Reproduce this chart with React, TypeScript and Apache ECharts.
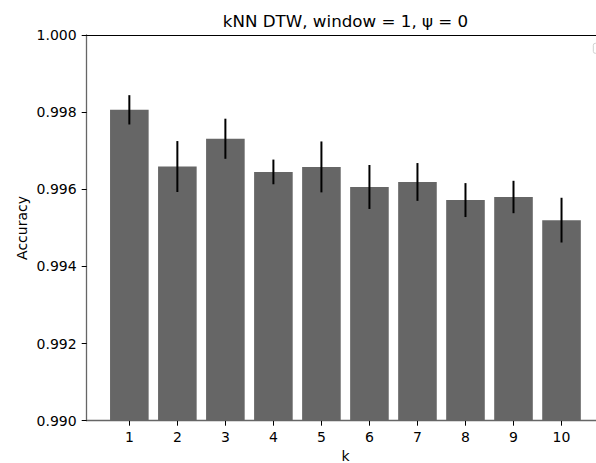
import React, { useEffect, useRef } from "react";
import * as echarts from "echarts";

const kValues = [1, 2, 3, 4, 5, 6, 7, 8, 9, 10];
const accuracy = [0.99806, 0.99659, 0.99731, 0.99645, 0.99658, 0.99606, 0.99619, 0.99572, 0.9958, 0.9952];
const errors = [0.00038, 0.00066, 0.00052, 0.00032, 0.00066, 0.00057, 0.00049, 0.00044, 0.00042, 0.00058];
const yTicks = { min: 0.99, max: 1.0, interval: 0.002 };
const titleText = "kNN DTW, window = 1, ψ = 0";
const xName = "k";
const yName = "Accuracy";

const FONT = '"DejaVu Sans", "Liberation Sans", sans-serif';

export default function App() {
  const ref = useRef<HTMLDivElement>(null);
  useEffect(() => {
    document.body.style.margin = "0";
    if (!ref.current) return;
    const chart = echarts.init(ref.current, null, { renderer: "svg" });
    const xMin = 0.112;
    const xMax = 10.718;
    chart.setOption({
      animation: false,
      backgroundColor: "#ffffff",
      textStyle: { fontFamily: FONT },
      grid: { left: 86.7, top: 35, right: 0, bottom: 42.3, containLabel: false },
      xAxis: [
        {
          type: "value",
          min: xMin,
          max: xMax,
          position: "bottom",
          splitLine: { show: false },
          axisLine: { show: true, lineStyle: { color: "#666666", width: 1.3 } },
          axisTick: { show: true, customValues: kValues, length: 5, lineStyle: { color: "#000", width: 1 } },
          axisLabel: {
            show: true,
            customValues: kValues,
            formatter: (v: number) => String(Math.round(v)),
            margin: 9,
            fontSize: 14,
            color: "#000",
            fontFamily: FONT,
          },
        },
        {
          type: "value",
          min: xMin,
          max: xMax,
          position: "top",
          splitLine: { show: false },
          axisLine: { show: true, lineStyle: { color: "#000", width: 1.2 } },
          axisTick: { show: false },
          axisLabel: { show: false },
        },
      ],
      yAxis: {
        type: "value",
        min: yTicks.min,
        max: yTicks.max,
        interval: yTicks.interval,
        splitLine: { show: false },
        axisLine: { show: true, lineStyle: { color: "#666666", width: 1.3 } },
        axisTick: { show: true, length: 5, lineStyle: { color: "#000", width: 1 } },
        axisLabel: {
          formatter: (v: number) => v.toFixed(3),
          margin: 10,
          fontSize: 14,
          color: "#000",
          fontFamily: FONT,
        },
      },
      series: [
        {
          type: "bar",
          xAxisIndex: 0,
          data: kValues.map((k, i) => [k, accuracy[i]]),
          barWidth: 38.6,
          clip: true,
          itemStyle: { color: "#666666" },
          z: 2,
        },
        {
          type: "custom",
          xAxisIndex: 0,
          data: kValues.map((k, i) => [k, accuracy[i] - errors[i], accuracy[i] + errors[i]]),
          encode: { x: 0, y: [1, 2] },
          z: 5,
          renderItem: (params: any, api: any) => {
            const x = api.value(0);
            const p1 = api.coord([x, api.value(1)]);
            const p2 = api.coord([x, api.value(2)]);
            return {
              type: "line",
              shape: { x1: p1[0], y1: p1[1], x2: p2[0], y2: p2[1] },
              style: { stroke: "#000", lineWidth: 2 },
            };
          },
        },
      ],
      graphic: [
        {
          type: "text",
          x: 345.5,
          y: 21,
          style: {
            text: titleText,
            font: `16.7px ${FONT}`,
            fill: "#000",
            textAlign: "center",
            textVerticalAlign: "middle",
            align: "center",
            verticalAlign: "middle",
          },
        },
        {
          type: "text",
          x: 345.5,
          y: 455.5,
          style: {
            text: xName,
            font: `14px ${FONT}`,
            fill: "#000",
            textAlign: "center",
            textVerticalAlign: "middle",
            align: "center",
            verticalAlign: "middle",
          },
        },
        {
          type: "text",
          x: 21.5,
          y: 228,
          rotation: Math.PI / 2,
          style: {
            text: yName,
            font: `14px ${FONT}`,
            fill: "#000",
            textAlign: "center",
            textVerticalAlign: "middle",
            align: "center",
            verticalAlign: "middle",
          },
        },
        {
          type: "rect",
          x: 593.3,
          y: 43.3,
          shape: { width: 20, height: 10, r: 2 },
          style: { fill: "#ffffff", stroke: "#d0d0d0", lineWidth: 1 },
        },
      ],
    });
    return () => chart.dispose();
  }, []);
  return <div ref={ref} style={{ width: 596, height: 463 }} />;
}
